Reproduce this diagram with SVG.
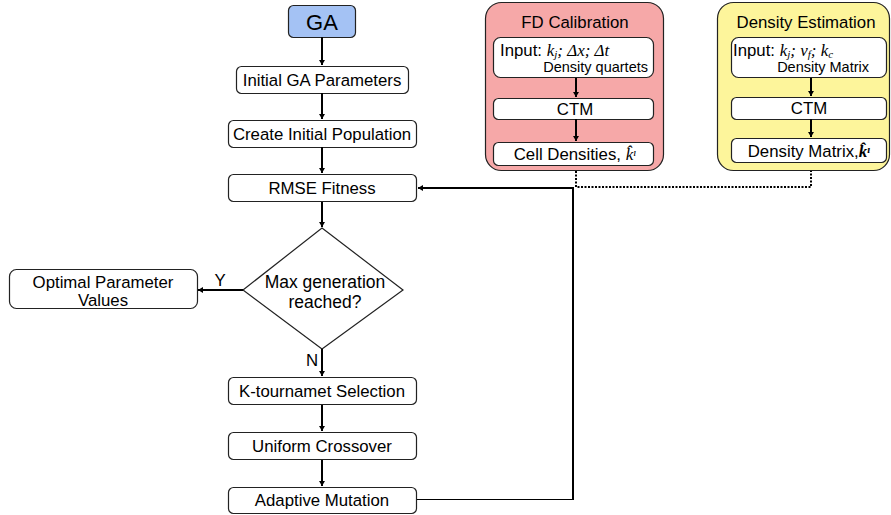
<svg xmlns="http://www.w3.org/2000/svg" width="891" height="515" viewBox="0 0 891 515">
<defs>
<marker id="ah" viewBox="0 0 10 10" refX="10" refY="5" markerWidth="5" markerHeight="6" markerUnits="userSpaceOnUse" orient="auto-start-reverse" preserveAspectRatio="none">
<path d="M0,0 L10,5 L0,10 z" fill="#000"/>
</marker>
<style>
.box{fill:#fff;stroke:#222;stroke-width:1.2}
.t{font-family:"Liberation Sans",Arial,sans-serif;font-size:16.8px;fill:#000;text-anchor:middle}
.s{font-family:"Liberation Sans",Arial,sans-serif;font-size:14.5px;fill:#000}
.m{font-family:"Liberation Serif","Times New Roman",serif;font-style:italic;font-size:17px;fill:#000}
.c{fill:none;stroke:#000;stroke-width:2}
.d{fill:none;stroke:#000;stroke-width:2;stroke-dasharray:2 1.5}
</style>
</defs>
<g id="ga">
<rect x="288.5" y="5.5" width="67" height="32" rx="5" fill="#a4c2f4" stroke="#222" stroke-width="1.2"/>
<text x="322" y="30" class="t" style="font-size:22px">GA</text>
</g>
<g id="initial-params">
<rect class="box" x="236.5" y="66.5" width="172" height="27" rx="5"/>
<text x="322" y="86" class="t">Initial GA Parameters</text>
</g>
<g id="create-pop">
<rect class="box" x="228.5" y="120.5" width="188" height="27" rx="5"/>
<text x="322" y="140" class="t">Create Initial Population</text>
</g>
<g id="rmse">
<rect class="box" x="228.5" y="174.5" width="188" height="27" rx="5"/>
<text x="322" y="194" class="t">RMSE Fitness</text>
</g>
<g id="decision">
<polygon points="322,228 403,290 322,349 243,290" fill="#fff" stroke="#222" stroke-width="1.2"/>
<text x="325" y="288" class="t" style="font-size:17.5px">Max generation</text>
<text x="325" y="308" class="t" style="font-size:17.5px">reached?</text>
</g>
<g id="optimal">
<rect class="box" x="9.5" y="269.5" width="188" height="39" rx="7"/>
<text x="103" y="288" class="t">Optimal Parameter</text>
<text x="103" y="306" class="t">Values</text>
</g>
<g id="selection">
<rect class="box" x="228.5" y="377.5" width="188" height="27" rx="5"/>
<text x="322" y="397" class="t">K-tournamet Selection</text>
</g>
<g id="crossover">
<rect class="box" x="228.5" y="432.5" width="188" height="27" rx="5"/>
<text x="322" y="452" class="t">Uniform Crossover</text>
</g>
<g id="mutation">
<rect class="box" x="228.5" y="487.5" width="188" height="26" rx="5"/>
<text x="322" y="506" class="t">Adaptive Mutation</text>
</g>
<g id="fd-calibration">
<rect x="485.5" y="2.5" width="178" height="168" rx="16" fill="#f6a8a8" stroke="#222" stroke-width="1.2"/>
<text x="575" y="28" class="t">FD Calibration</text>
<rect class="box" x="493.5" y="37.5" width="160" height="40" rx="7"/>
<text x="500" y="56" class="t" style="text-anchor:start">Input: <tspan class="m">k<tspan baseline-shift="-20%" font-size="11">j</tspan>;  Δ<tspan>x</tspan>;  Δ<tspan>t</tspan></tspan></text>
<text x="648" y="72" class="s" style="text-anchor:end">Density quartets</text>
<rect class="box" x="493.5" y="98.5" width="160" height="21" rx="5"/>
<text x="575" y="115" class="t">CTM</text>
<rect class="box" x="493.5" y="142.5" width="160" height="23" rx="5"/>
<text x="575" y="160" class="t">Cell Densities, <tspan class="m">k̂<tspan baseline-shift="35%" font-size="11">ı</tspan></tspan></text>
</g>
<g id="density-estimation">
<rect x="717.5" y="2.5" width="172" height="168" rx="16" fill="#fdf59b" stroke="#222" stroke-width="1.2"/>
<text x="806" y="28" class="t">Density Estimation</text>
<rect class="box" x="731.5" y="37.5" width="155" height="40" rx="7"/>
<text x="733" y="56" class="t" style="text-anchor:start">Input: <tspan class="m">k<tspan baseline-shift="-20%" font-size="11">j</tspan>; v<tspan baseline-shift="-20%" font-size="11">f</tspan>; k<tspan baseline-shift="-20%" font-size="11">c</tspan></tspan></text>
<text x="869" y="72" class="s" style="text-anchor:end">Density Matrix</text>
<rect class="box" x="731.5" y="97.5" width="155" height="22" rx="5"/>
<text x="809" y="114" class="t">CTM</text>
<rect class="box" x="731.5" y="138.5" width="155" height="24" rx="5"/>
<text x="809" y="157" class="t">Density Matrix,<tspan class="m" font-weight="bold">k̂<tspan baseline-shift="35%" font-size="11">ı</tspan></tspan></text>
</g>
<g id="connectors">
<path class="c" d="M322,37 V65" marker-end="url(#ah)"/>
<path class="c" d="M322,93 V119" marker-end="url(#ah)"/>
<path class="c" d="M322,147 V173" marker-end="url(#ah)"/>
<path class="c" d="M322,202 V227" marker-end="url(#ah)"/>
<path class="c" d="M243,290 H198" marker-end="url(#ah)"/>
<path class="c" d="M322,349 V376" marker-end="url(#ah)"/>
<path class="c" d="M322,405 V431" marker-end="url(#ah)"/>
<path class="c" d="M322,460 V486" marker-end="url(#ah)"/>
<path fill="none" stroke="#000" stroke-width="1.2" d="M417,499.5 H573"/>
<path class="c" d="M573,500 V188 H418" marker-end="url(#ah)"/>
<path class="c" d="M576,78 V97" marker-end="url(#ah)"/>
<path class="c" d="M576,119 V141" marker-end="url(#ah)"/>
<path class="c" d="M811,78 V96" marker-end="url(#ah)"/>
<path class="c" d="M811,119 V137" marker-end="url(#ah)"/>
<path class="d" d="M576,171 V187 H811 V171"/>
<text x="220" y="286" class="t">Y</text>
<text x="312" y="366" class="t">N</text>
</g>
</svg>
